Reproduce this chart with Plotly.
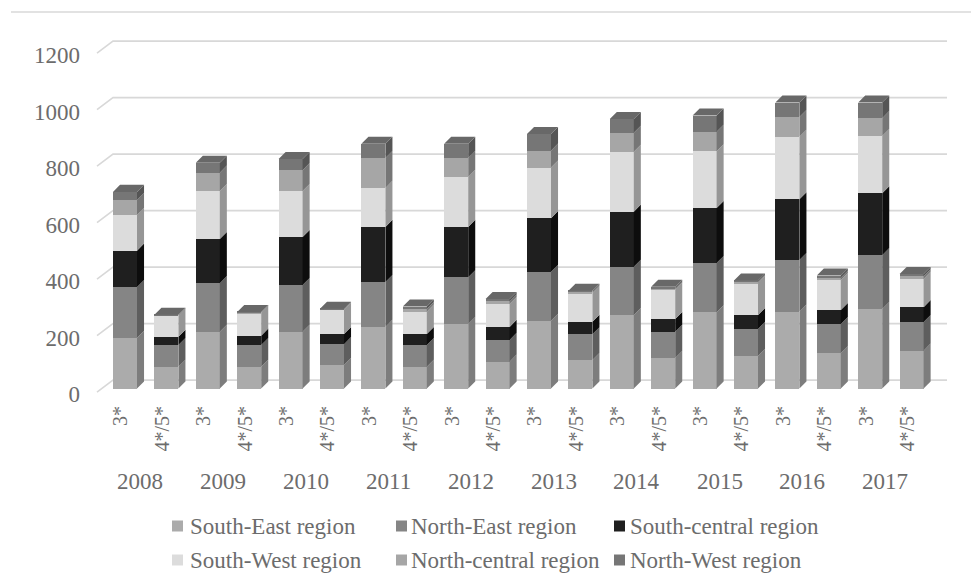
import plotly.graph_objects as go

WIDTH, HEIGHT = 971, 574

years = [2008, 2009, 2010, 2011, 2012, 2013, 2014, 2015, 2016, 2017]
star_labels = ["3*", "4*/5*"] * 10
axis_ticks = [0, 200, 400, 600, 800, 1000, 1200]

south_east = [179, 77, 201, 77, 201, 83, 218, 77, 228, 95, 240, 101, 260, 108, 270, 115, 272, 125, 281, 134]
north_east = [180, 77, 172, 77, 165, 74, 159, 77, 166, 77, 173, 91, 171, 93, 174, 96, 183, 103, 191, 101]
south_central = [129, 29, 156, 33, 170, 36, 195, 39, 178, 46, 190, 44, 195, 45, 195, 49, 215, 50, 219, 53]
south_west = [126, 74, 170, 80, 163, 85, 138, 79, 177, 81, 179, 102, 212, 103, 201, 113, 221, 106, 203, 100]
north_central = [53, 2, 65, 2, 74, 2, 106, 9, 67, 9, 60, 4, 67, 6, 69, 5, 70, 8, 63, 9]
north_west = [29, 2, 35, 2, 39, 2, 50, 9, 50, 9, 59, 4, 49, 5, 57, 4, 51, 8, 55, 8]

series = [
    ("South-East region", south_east, "#ababab", "#7d7d7d"),
    ("North-East region", north_east, "#858585", "#5e5e5e"),
    ("South-central region", south_central, "#1f1f1f", "#0d0d0d"),
    ("South-West region", south_west, "#dcdcdc", "#969696"),
    ("North-central region", north_central, "#a6a6a6", "#767676"),
    ("North-West region", north_west, "#767676", "#555555"),
]
TOP_FACE = "#686868"
TEXT = "#6c6c6c"
GRID = "#d8d8d8"
SERIF = "Liberation Serif"

# Pixel layout of the plotting frame and the value scale used by both y axes.
PX_PER_UNIT = 0.2825
PX_PER_SLOT = 41.4
FIRST_BAR_PX = 125
LEFT, RIGHT, TOP, BOTTOM = 81, 950, 20, 401
BAR_BASE_PX, WALL_LABEL_BASE_PX = 388.5, 394

BAR_WIDTH = 0.58
DEPTH_X = 0.17
DEPTH_Y = 25
WALL_DEPTH_X = 0.386
WALL_FRONT_DROP = -7
WALL_BACK_RISE = 42


def value_range(base_px):
    return [(base_px - BOTTOM) / PX_PER_UNIT, (base_px - TOP) / PX_PER_UNIT]


positions = list(range(len(star_labels)))
fig = go.Figure()

# Back-wall gridlines, each with the short slanted run on the side wall.
wall_x, wall_y = [], []
left_edge = (97 - FIRST_BAR_PX) / PX_PER_SLOT
right_edge = (947 - FIRST_BAR_PX) / PX_PER_SLOT
for tick in axis_ticks:
    wall_x += [left_edge, left_edge + WALL_DEPTH_X, right_edge, None]
    wall_y += [tick - WALL_FRONT_DROP, tick - WALL_FRONT_DROP + WALL_BACK_RISE,
               tick - WALL_FRONT_DROP + WALL_BACK_RISE, None]
fig.add_trace(go.Scatter(
    x=wall_x, y=wall_y, mode="lines", yaxis="y", xaxis="x",
    line=dict(color=GRID, width=1.6), hoverinfo="skip", showlegend=False,
))

# Front faces of the stacked columns.
for name, values, front, _ in series:
    fig.add_trace(go.Bar(
        x=positions, y=values, name=name, width=BAR_WIDTH, yaxis="y2", xaxis="x",
        marker=dict(color=front, line=dict(width=0)), showlegend=False,
    ))

# Right-hand side faces, sheared back from each stacked segment.
base = [0] * len(positions)
for name, values, _, side in series:
    side_x, side_y = [], []
    for i, value in enumerate(values):
        x0 = positions[i] + BAR_WIDTH / 2
        low, high = base[i], base[i] + value
        side_x += [x0, x0, x0 + DEPTH_X, x0 + DEPTH_X, x0, None]
        side_y += [low, high, high + DEPTH_Y, low + DEPTH_Y, low, None]
        base[i] = high
    fig.add_trace(go.Scatter(
        x=side_x, y=side_y, mode="lines", fill="toself", fillcolor=side, yaxis="y2", xaxis="x",
        line=dict(width=0, color=side), hoverinfo="skip", showlegend=False,
    ))

# Top caps of the columns.
cap_x, cap_y = [], []
for i, total in enumerate(base):
    x0, x1 = positions[i] - BAR_WIDTH / 2, positions[i] + BAR_WIDTH / 2
    cap_x += [x0, x0 + DEPTH_X, x1 + DEPTH_X, x1, x0, None]
    cap_y += [total, total + DEPTH_Y, total + DEPTH_Y, total, total, None]
fig.add_trace(go.Scatter(
    x=cap_x, y=cap_y, mode="lines", fill="toself", fillcolor=TOP_FACE, yaxis="y2", xaxis="x",
    line=dict(width=0, color=TOP_FACE), hoverinfo="skip", showlegend=False,
))

annotations = []
# Year captions under each pair of columns.
for i, year in enumerate(years):
    annotations.append(dict(
        x=2 * i + 0.5 - 0.14, y=1 - 481 / HEIGHT, xref="x", yref="paper", yanchor="middle",
        text=str(year), showarrow=False, font=dict(family=SERIF, size=23, color=TEXT),
    ))

# Two-row key below the chart.
key_swatches = [172, 396, 614]
key_texts = [190, 411, 630]
key_rows = [526, 560]
shapes = [dict(
    type="line", xref="paper", yref="paper", x0=11 / WIDTH, x1=1,
    y0=1 - 12 / HEIGHT, y1=1 - 12 / HEIGHT, line=dict(color=GRID, width=1.6), layer="below",
)]
for k, (name, _, front, _) in enumerate(series):
    sx, tx, py = key_swatches[k % 3], key_texts[k % 3], key_rows[k // 3]
    shapes.append(dict(
        type="rect", xref="paper", yref="paper", line=dict(width=0), fillcolor=front,
        x0=sx / WIDTH, x1=(sx + 11) / WIDTH, y0=1 - (py + 5.5) / HEIGHT, y1=1 - (py - 5.5) / HEIGHT,
    ))
    annotations.append(dict(
        x=tx / WIDTH, y=1 - py / HEIGHT, xref="paper", yref="paper", xanchor="left", yanchor="middle",
        xshift=-2, text=name, showarrow=False, font=dict(family=SERIF, size=23, color=TEXT),
    ))

fig.update_layout(
    width=WIDTH, height=HEIGHT, margin=dict(l=0, r=0, t=0, b=0),
    paper_bgcolor="white", plot_bgcolor="rgba(0,0,0,0)",
    barmode="stack", showlegend=False, annotations=annotations, shapes=shapes,
    xaxis=dict(
        domain=[LEFT / WIDTH, RIGHT / WIDTH], automargin=False,
        range=[(LEFT - FIRST_BAR_PX) / PX_PER_SLOT, (RIGHT - FIRST_BAR_PX) / PX_PER_SLOT],
        tickmode="array", tickvals=[p - 0.1 for p in positions], ticktext=star_labels,
        tickangle=-90, tickfont=dict(family=SERIF, size=20, color=TEXT),
        showgrid=False, zeroline=False, showline=False, ticks="",
    ),
    yaxis=dict(
        domain=[1 - BOTTOM / HEIGHT, 1 - TOP / HEIGHT], range=value_range(WALL_LABEL_BASE_PX),
        automargin=False, tickmode="array", tickvals=axis_ticks,
        tickfont=dict(family=SERIF, size=23, color=TEXT),
        showgrid=False, zeroline=False, showline=False, ticks="",
    ),
    yaxis2=dict(
        domain=[1 - BOTTOM / HEIGHT, 1 - TOP / HEIGHT], range=value_range(BAR_BASE_PX),
        overlaying="y", anchor="x", visible=False,
    ),
)

fig.write_html("out.html")
